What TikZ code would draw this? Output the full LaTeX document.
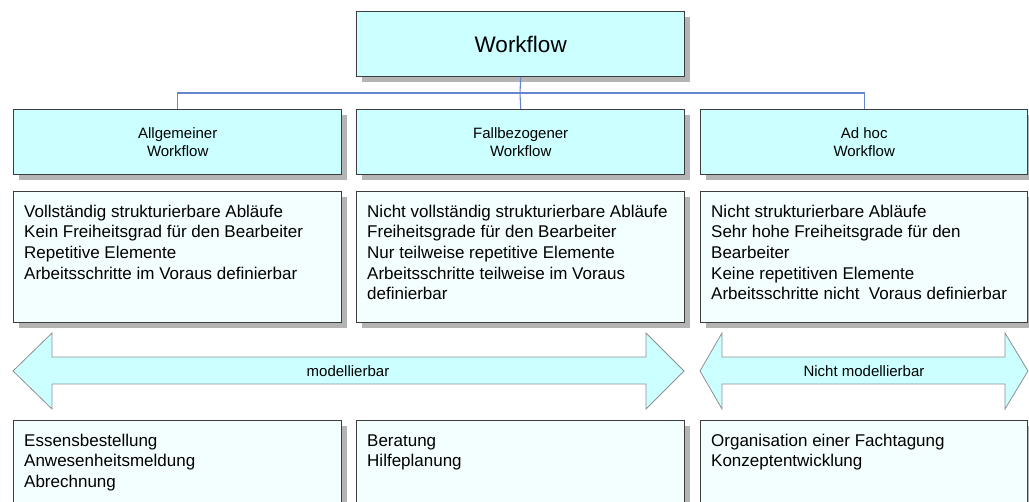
\documentclass[tikz,border=0pt]{standalone}
\usepackage{fontspec}
\setmainfont{Liberation Sans}
\definecolor{headfill}{HTML}{CCFFFF}
\definecolor{bodyfill}{HTML}{F3FEFE}
\definecolor{edge}{HTML}{3C3C3C}
\definecolor{dropgray}{HTML}{B4B4B4}
\definecolor{link}{HTML}{6386CF}
\definecolor{bandedge}{HTML}{909090}
\tikzset{
  card/.style={draw=edge, line width=1.4pt, inner sep=0pt, anchor=north west},
  titletext/.style={font=\fontsize{22.5}{27}\selectfont, text=black},
  headtext/.style={font=\fontsize{15}{18}\selectfont, align=center, inner sep=0pt},
  bodytext/.style={font=\fontsize{17}{20.7}\selectfont, align=left, anchor=north west, inner sep=0pt},
  band/.style={draw=bandedge, line width=0.8pt, fill=headfill, line join=miter},
  tag/.style={font=\fontsize{15}{18}\selectfont, inner sep=0pt},
  busline/.style={draw=link, line width=1.1pt}
}
% box with a drop shadow: name, left, top, width, height, fill
\newcommand\shadedcard[6]{%
  \fill[dropgray] (#2+6,#3+6) rectangle ++(#4,#5);
  \node[card, fill=#6, minimum width=#4pt, minimum height=#5pt] (#1) at (#2,#3) {};
}
\begin{document}
\begin{tikzpicture}[x=1pt,y=-1pt]
\useasboundingbox (0,0) rectangle (1029,502);
\clip (0,0) rectangle (1029,502);

% root
\shadedcard{root}{356}{11}{328}{65}{headfill}
\node[titletext] (roottxt) at (root.center) {Workflow};

% three kinds of workflow
\shadedcard{hA}{13}{109}{328}{65}{headfill}
\shadedcard{hB}{356}{109}{328}{65}{headfill}
\shadedcard{hC}{700}{109}{327}{65}{headfill}
\node[headtext] (hAtxt) at (hA.center) {Allgemeiner\\Workflow};
\node[headtext] (hBtxt) at (hB.center) {Fallbezogener\\Workflow};
\node[headtext] (hCtxt) at (hC.center) {Ad hoc\\Workflow};

% connectors
\coordinate (bus) at (520,93);
\draw[busline] (root.south) -- (bus);
\draw[busline] (hA.north) |- (bus) -| (hC.north);
\draw[busline] (bus) -- (hB.north);

% characteristics
\shadedcard{dA}{13}{191}{328}{131}{bodyfill}
\shadedcard{dB}{356}{191}{328}{131}{bodyfill}
\shadedcard{dC}{700}{191}{327}{131}{bodyfill}
\node[bodytext] (dAtxt) at ([shift={(11,11.5)}]dA.north west) {\strut Vollständig strukturierbare Abläufe\\Kein Freiheitsgrad für den Bearbeiter\\Repetitive Elemente\\Arbeitsschritte im Voraus definierbar};
\node[bodytext] (dBtxt) at ([shift={(11,11.5)}]dB.north west) {\strut Nicht vollständig strukturierbare Abläufe\\Freiheitsgrade für den Bearbeiter\\Nur teilweise repetitive Elemente\\Arbeitsschritte teilweise im Voraus\\definierbar};
\node[bodytext] (dCtxt) at ([shift={(11,11.5)}]dC.north west) {\strut Nicht strukturierbare Abläufe\\Sehr hohe Freiheitsgrade für den\\Bearbeiter\\Keine repetitiven Elemente\\Arbeitsschritte nicht\ \ Voraus definierbar};

% range arrows
\draw[band] (13,371) -- (52,333) -- (52,357) -- (646,357) -- (646,333) -- (684,371)
  -- (646,409) -- (646,384) -- (52,384) -- (52,409) -- cycle;
\draw[band] (700,371) -- (722,333) -- (722,357) -- (1005,357) -- (1005,333) -- (1028,371)
  -- (1005,409) -- (1005,384) -- (722,384) -- (722,409) -- cycle;
\node[tag] (mod) at (348,371) {modellierbar};
\node[tag] (nomod) at (864,371) {Nicht modellierbar};

% examples
\shadedcard{eA}{13}{420}{328}{100}{bodyfill}
\shadedcard{eB}{356}{420}{328}{100}{bodyfill}
\shadedcard{eC}{700}{420}{327}{100}{bodyfill}
\node[bodytext] (eAtxt) at ([shift={(11,11.5)}]eA.north west) {\strut Essensbestellung\\Anwesenheitsmeldung\\Abrechnung};
\node[bodytext] (eBtxt) at ([shift={(11,11.5)}]eB.north west) {\strut Beratung\\Hilfeplanung};
\node[bodytext] (eCtxt) at ([shift={(11,11.5)}]eC.north west) {\strut Organisation einer Fachtagung\\Konzeptentwicklung};
\end{tikzpicture}
\end{document}
